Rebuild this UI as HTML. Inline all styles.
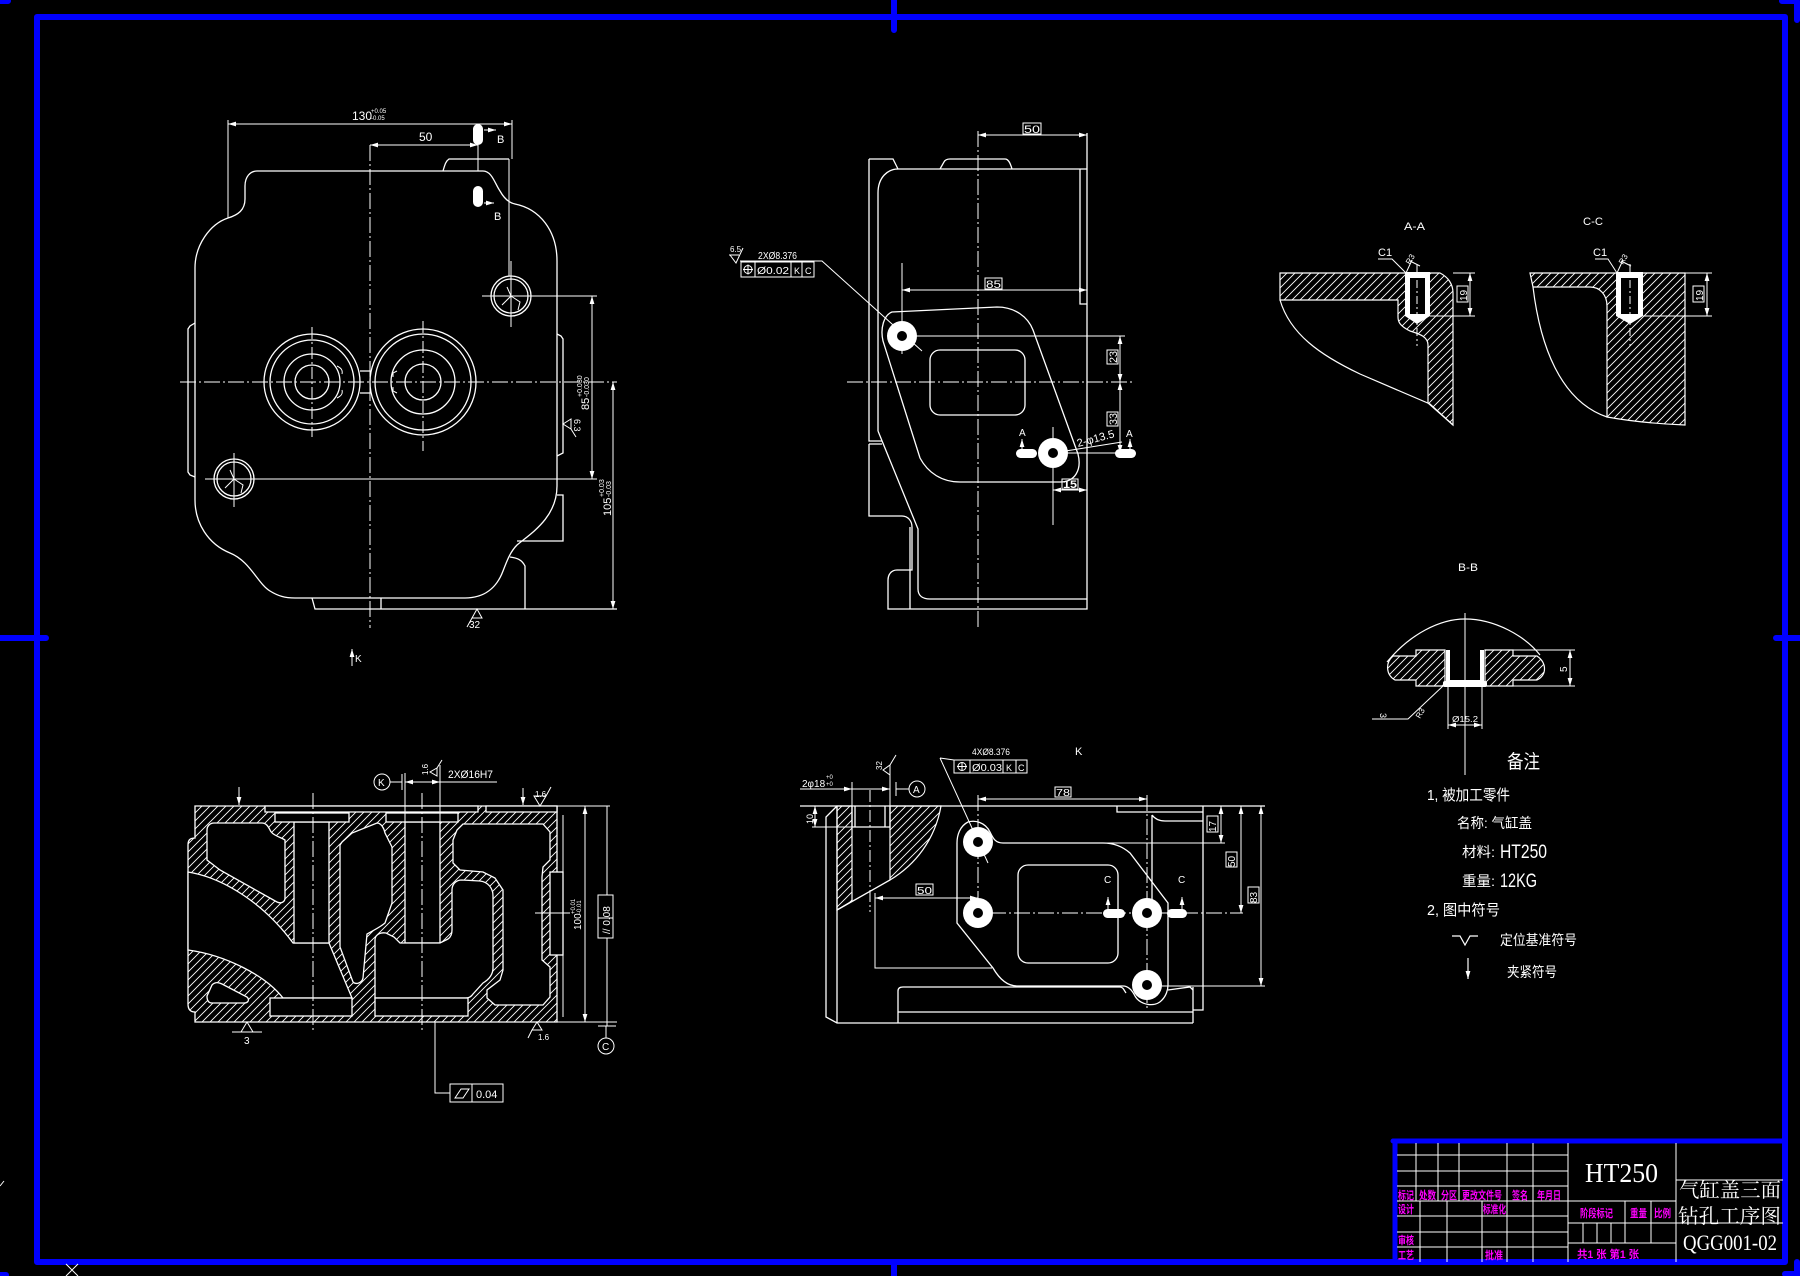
<!DOCTYPE html>
<html><head><meta charset="utf-8"><style>html,body{margin:0;padding:0;background:#000;}svg{display:block}</style></head>
<body>
<svg xmlns="http://www.w3.org/2000/svg" width="1800" height="1276" viewBox="0 0 1800 1276">
<defs>
<pattern id="h" patternUnits="userSpaceOnUse" width="8" height="8"><path d="M-1,9 L9,-1 M-1,1 L1,-1 M7,9 L9,7" stroke="#fff" stroke-width="0.9"/></pattern>
<marker id="a" viewBox="0 0 10 6" refX="10" refY="3" markerWidth="8" markerHeight="5" markerUnits="userSpaceOnUse" orient="auto-start-reverse"><path d="M0,0 L10,3 L0,6 z" fill="#fff"/></marker>
</defs>
<rect width="1800" height="1276" fill="#000"/>

<!-- blue frames -->
<g fill="none" stroke="#0000ff" stroke-width="6" stroke-linecap="round" stroke-linejoin="round">
<rect x="37" y="17" width="1748" height="1245"/>
<path d="M894,0 L894,30 M894,1262 L894,1276 M0,638 L46,638 M1776,638 L1800,638"/>
<path d="M1393,1141 L1785,1141 M1395,1141 L1395,1262" stroke-width="5"/>
<path d="M0,1 L8,1 M1782,1 L1797,1 L1797,20 M1797,1262 L1797,1276 M1785,1274 L1797,1274 M0,1275 L6,1275"/>
</g>
<g stroke="#fff" stroke-width="1"><path d="M66,1264 L78,1276 M78,1264 L66,1276 M0,1186 L4,1181"/></g>

<!-- ============ FRONT VIEW (top-left) ============ -->
<g fill="none" stroke="#fff" stroke-width="1.3">
<path d="M257,171 L483,171 C492,171 495,184 500,191 C505,200 510,203 515,204 C540,209 557,231 557,261 L557,486 C557,518 530,534 517,545 C510,552 507,561 503,571 C497,587 485,598 465,598 L295,598 C285,598 278,596 270,591 C258,584 250,561 230,553 C208,544 195,523 195,500 L195,268 C195,245 210,224 228,218 C238,215 245,210 245,199 L245,186 C245,177 250,171 257,171 Z"/>
<path d="M557,334 L561,336 L563,339 L563,453 L557,456"/>
<path d="M557,495 L563,495 L563,541 L517,541"/>
<path d="M510,557 C518,558 522,560 525,566 L525,609"/>
<path d="M312,598 L315,609 L617,609 M381,598 L381,609"/>
<path d="M195,323 L190,326 L188,329 L188,472 L190,475 L195,477"/>
<path d="M443,171 C445,164 446,161 449,159 L509,159"/>
<circle cx="312" cy="382" r="48"/><circle cx="312" cy="382" r="42"/><circle cx="312" cy="382" r="28"/><circle cx="312" cy="382" r="17"/>
<circle cx="423" cy="382" r="53"/><circle cx="423" cy="382" r="48"/><circle cx="423" cy="382" r="32"/><circle cx="423" cy="382" r="18"/>
<path d="M337,366 C341,368 343,370 342,374 M337,398 C341,396 343,394 342,390 M397,371 L393,373 L393,377 M397,393 L393,391 L393,387" stroke-width="1"/>
<path d="M360,371 L370,371 M360,393 L370,393" />
<circle cx="511" cy="296" r="20"/><circle cx="511" cy="296" r="17"/>
<circle cx="234" cy="479" r="20"/><circle cx="234" cy="479" r="17"/>
<path d="M511,296 L520,302 L518,310 M511,296 L502,305 M511,296 L507,287 M234,479 L243,485 L241,493 M234,479 L225,488 M234,479 L230,470" stroke-width="1"/>
</g>
<g fill="none" stroke="#fff" stroke-width="1">
<path d="M180,382 L617,382" stroke-dasharray="16 3 2 3"/>
<path d="M370,145 L370,628" stroke-dasharray="16 3 2 3"/>
<path d="M312,327 L312,437 M423,321 L423,451" stroke-dasharray="12 3 2 3"/>
<path d="M511,261 L511,327 M234,453 L234,507"/>
<path d="M228,124 L512,124" marker-start="url(#a)" marker-end="url(#a)"/>
<path d="M228,120 L228,218 M512,120 L512,159 M509,159 L509,276"/>
<path d="M370,145 L478,145" marker-start="url(#a)" marker-end="url(#a)"/>
<path d="M478,145 L478,171"/>
<path d="M482,296 L597,296 M205,479 L597,479"/>
<path d="M592,296 L592,479" marker-start="url(#a)" marker-end="url(#a)"/>
<path d="M613,382 L613,609" marker-start="url(#a)" marker-end="url(#a)"/>
<path d="M484,130 L496,130" marker-end="url(#a)"/>
<path d="M484,203 L494,203" marker-end="url(#a)"/>
<path d="M563,424 L571,419 L571,429 Z M571,429 L576,437"/>
<path d="M477,609 L472,618 L482,618 Z M472,618 L467,627"/>
<path d="M352,666 L352,649" marker-end="url(#a)"/>
</g>
<g fill="#fff">
<rect x="473" y="124" width="10" height="21" rx="5"/>
<rect x="473" y="186" width="10" height="21" rx="5"/>
</g>
<g fill="#fff" font-family="'Liberation Sans Narrow','Liberation Sans',sans-serif" font-size="12">
<text x="352" y="120">130</text>
<text x="371" y="113" font-size="6">+0.05</text><text x="371" y="120" font-size="6">-0.05</text>
<text x="419" y="141">50</text>
<text x="497" y="143" font-size="11">B</text>
<text x="494" y="220" font-size="11">B</text>
<g transform="translate(589,410) rotate(-90)"><text x="0" y="0" font-size="11">85</text><text x="13" y="-7" font-size="7">+0.030</text><text x="13" y="0" font-size="7">-0.030</text></g>
<g transform="translate(611,516) rotate(-90)"><text x="0" y="0" font-size="11">105</text><text x="19" y="-7" font-size="7">+0.03</text><text x="19" y="0" font-size="7">-0.03</text></g>
<text transform="translate(574,419) rotate(90)" font-size="9">6.3</text>
<text x="469" y="628" font-size="10">32</text>
<text x="355" y="662" font-size="10">K</text>
</g>

<!-- ============ SIDE VIEW (top-middle) ============ -->
<g fill="none" stroke="#fff" stroke-width="1.3">
<path d="M869,159 L893,159 L898,169 L1087,169 M940,169 L944,162 C945,160 947,159 950,159 L1005,159 C1008,159 1010,162 1012,169"/>
<path d="M869,159 L869,441 L882,441 M869,444 L882,444 M869,444 L869,516 L902,516 C908,516 912,521 912,527 L912,570 L897,570 C891,570 888,575 888,580 L888,609 L1087,609 L1087,133"/>
<path d="M910,527 L910,609"/>
<path d="M878,431 L878,193 C878,177 888,169 898,169"/>
<path d="M878,431 L918,529 L918,589 C918,596 923,599 930,599 L1087,599"/>
<path d="M1080,169 L1080,304 L1087,304"/>
<path d="M892,312 L997,307 C1015,307 1028,317 1033,330 L1078,454 C1082,470 1075,482 1060,482 L960,482 C942,482 928,473 920,458 L883,341 C880,328 884,315 892,312 Z"/>
<rect x="930" y="350" width="95" height="65" rx="10"/>
</g>
<g fill="none" stroke="#fff" stroke-width="1">
<path d="M847,382 L1133,382" stroke-dasharray="16 3 2 3"/>
<path d="M978,131 L978,627" stroke-dasharray="16 3 2 3"/>
<path d="M902,263 L902,354 M1053,427 L1053,525"/>
<path d="M922,351 L822,261 L740,261"/>
<path d="M902,336 L1125,336 M1053,453 L1125,453"/>
<path d="M902,290 L1087,290" marker-start="url(#a)" marker-end="url(#a)"/>
<path d="M978,135 L1087,135" marker-start="url(#a)" marker-end="url(#a)"/>
<path d="M1120,336 L1120,382" marker-start="url(#a)" marker-end="url(#a)"/>
<path d="M1120,382 L1120,453" marker-start="url(#a)" marker-end="url(#a)"/>
<path d="M1053,490 L1087,490" marker-start="url(#a)" marker-end="url(#a)"/>
<path d="M1053,479 L1053,493"/>
<rect x="985" y="278" width="17" height="11"/>
<rect x="1023" y="123" width="18" height="11"/>
<rect x="1107" y="350" width="11" height="14"/>
<rect x="1107" y="412" width="11" height="14"/>
<rect x="1062" y="479" width="16" height="10"/>
<rect x="741" y="262" width="73" height="15"/>
<path d="M755,262 L755,277 M791,262 L791,277 M802,262 L802,277"/>
<circle cx="748" cy="269.5" r="4"/><path d="M748,264.5 L748,274.5 M743,269.5 L753,269.5"/>
<path d="M730,255 L736,263 L743,248 M729,255 L739,255"/>
<path d="M1022,449 L1022,439" marker-end="url(#a)"/>
<path d="M1130,449 L1130,439" marker-end="url(#a)"/>
<path d="M1053,453 L1122,442"/>
</g>
<g fill="#fff">
<circle cx="902" cy="336" r="15"/><circle cx="1053" cy="453" r="15"/>
<rect x="1016" y="449" width="21" height="9" rx="4.5"/>
<rect x="1115" y="449" width="21" height="9" rx="4.5"/>
</g>
<g fill="#000"><circle cx="902" cy="336" r="5"/><circle cx="1053" cy="453" r="5"/></g>
<g fill="#fff" font-family="'Liberation Sans Narrow','Liberation Sans',sans-serif" font-size="11">
<text x="986" y="288" textLength="15" lengthAdjust="spacingAndGlyphs">85</text>
<text x="1024" y="133" textLength="16" lengthAdjust="spacingAndGlyphs">50</text>
<text transform="translate(1117,363) rotate(-90)" textLength="12" lengthAdjust="spacingAndGlyphs">23</text>
<text transform="translate(1117,425) rotate(-90)" textLength="12" lengthAdjust="spacingAndGlyphs">33</text>
<text x="1063" y="488" font-weight="bold" textLength="14" lengthAdjust="spacingAndGlyphs">15</text>
<text x="758" y="259" font-size="10" textLength="39" lengthAdjust="spacingAndGlyphs">2XØ8.376</text>
<text x="757" y="274" font-size="10" textLength="32" lengthAdjust="spacingAndGlyphs">Ø0.02</text>
<text x="794" y="274" font-size="9">K</text>
<text x="805" y="274" font-size="9">C</text>
<text x="730" y="252" font-size="8">6.5</text>
<text x="1019" y="436" font-size="10">A</text>
<text x="1126" y="437" font-size="10">A</text>
<text transform="translate(1078,447) rotate(-15)" font-size="11">2-φ13.5</text>
</g>

<!-- ============ SECTION A-A ============ -->
<path d="M1280,273 L1440,273 C1448,277 1453,284 1453,293 L1453,425 L1428,403 L1428,345 C1428,337 1420,334 1410,331 C1400,326 1398,322 1398,317 L1398,300 L1280,300 Z" fill="url(#h)" stroke="#fff" stroke-width="1.2"/>
<path d="M1280,300 C1290,334 1320,355 1360,374 L1430,404 L1453,425" fill="none" stroke="#fff" stroke-width="1.2"/>
<path d="M1405,272 L1405,316 L1417,324 L1430,316 L1430,272 Z" fill="#fff"/>
<rect x="1410" y="278" width="15" height="36" fill="#000"/>
<!-- C-C -->
<path d="M1530,273 L1685,273 L1685,425 C1660,424 1635,422 1607,417 L1607,306 C1607,295 1600,287 1590,287 L1533,287 Z" fill="url(#h)" stroke="#fff" stroke-width="1.2"/>
<path d="M1533,287 C1540,345 1560,401 1607,417" fill="none" stroke="#fff" stroke-width="1.2"/>
<path d="M1616,272 L1616,316 L1630,324 L1643,316 L1643,272 Z" fill="#fff"/>
<rect x="1621" y="278" width="17" height="36" fill="#000"/>
<!-- B-B -->
<path d="M1387,662 C1410,634 1440,619 1465,619 C1495,619 1525,636 1540,655" fill="none" stroke="#fff" stroke-width="1.2"/>
<path d="M1416,650 L1445,650 L1445,686 L1416,686 L1416,680 L1395,680 C1386,675 1385,663 1393,656 L1416,656 Z" fill="url(#h)" stroke="#fff" stroke-width="1.2"/>
<path d="M1485,650 L1513,650 L1513,656 L1537,656 C1547,663 1547,675 1537,680 L1513,680 L1513,686 L1485,686 Z" fill="url(#h)" stroke="#fff" stroke-width="1.2"/>
<path d="M1448,650 L1448,682 L1482,682 L1482,650" fill="none" stroke="#fff" stroke-width="4"/>
<rect x="1443" y="681" width="44" height="6" rx="2" fill="#fff"/>
<g fill="none" stroke="#fff" stroke-width="1">
<path d="M1417,264 L1417,346 M1630,264 L1630,346" stroke-dasharray="8 3 2 3"/>
<path d="M1453,273 L1475,273 M1430,316 L1475,316"/>
<path d="M1470,273 L1470,316" marker-start="url(#a)" marker-end="url(#a)"/>
<rect x="1457" y="286" width="11" height="16"/>
<path d="M1378,259 L1392,259 L1406,273 M1406,273 L1412,260 M1410,261 L1420,266"/>
<path d="M1685,273 L1712,273 M1643,316 L1712,316"/>
<path d="M1707,273 L1707,316" marker-start="url(#a)" marker-end="url(#a)"/>
<rect x="1693" y="286" width="11" height="16"/>
<path d="M1595,259 L1608,259 L1617,273 M1617,273 L1623,260 M1621,261 L1631,266"/>
<path d="M1465,613 L1465,775"/>
<path d="M1513,650 L1575,650 M1487,686 L1575,686"/>
<path d="M1570,650 L1570,686" marker-start="url(#a)" marker-end="url(#a)"/>
<path d="M1448,686 L1448,729 M1482,686 L1482,729"/>
<path d="M1448,725 L1482,725" marker-start="url(#a)" marker-end="url(#a)"/>
<path d="M1443,686 L1408,719 L1372,719"/>
</g>
<g fill="#fff" font-family="'Liberation Sans Narrow','Liberation Sans',sans-serif" font-size="11">
<text x="1404" y="230" textLength="21" lengthAdjust="spacingAndGlyphs">A-A</text>
<text x="1583" y="225" textLength="20" lengthAdjust="spacingAndGlyphs">C-C</text>
<text x="1458" y="571" textLength="20" lengthAdjust="spacingAndGlyphs">B-B</text>
<text x="1378" y="256">C1</text>
<text x="1593" y="256">C1</text>
<text transform="translate(1410,265) rotate(-60)" font-size="8">R3</text>
<text transform="translate(1623,265) rotate(-60)" font-size="8">R3</text>
<text transform="translate(1467,301) rotate(-90)" font-size="10">19</text>
<text transform="translate(1703,301) rotate(-90)" font-size="10">19</text>
<text transform="translate(1567,672) rotate(-90)" font-size="10">5</text>
<text x="1452" y="722" font-size="8" textLength="26" lengthAdjust="spacingAndGlyphs">Ø15.2</text>
<text transform="translate(1380,713) rotate(90)" font-size="9">3</text>
<text transform="translate(1420,719) rotate(-60)" font-size="8">R3</text>
</g>

<!-- ============ NOTES ============ -->
<g fill="#fff" font-family="'Liberation Sans','Noto Sans CJK SC',sans-serif">
<text x="1507" y="768" font-size="19" textLength="33" lengthAdjust="spacingAndGlyphs">备注</text>
<text x="1427" y="800" font-size="15" textLength="83" lengthAdjust="spacingAndGlyphs">1, 被加工零件</text>
<text x="1457" y="828" font-size="14" textLength="75" lengthAdjust="spacingAndGlyphs">名称: 气缸盖</text>
<text x="1462" y="857" font-size="14" textLength="33" lengthAdjust="spacingAndGlyphs">材料:</text>
<text x="1500" y="858" font-size="19" textLength="47" lengthAdjust="spacingAndGlyphs">HT250</text>
<text x="1462" y="886" font-size="14" textLength="33" lengthAdjust="spacingAndGlyphs">重量:</text>
<text x="1500" y="887" font-size="19" textLength="37" lengthAdjust="spacingAndGlyphs">12KG</text>
<text x="1427" y="915" font-size="15" textLength="73" lengthAdjust="spacingAndGlyphs">2, 图中符号</text>
<text x="1500" y="945" font-size="14" textLength="77" lengthAdjust="spacingAndGlyphs">定位基准符号</text>
<text x="1507" y="977" font-size="14" textLength="50" lengthAdjust="spacingAndGlyphs">夹紧符号</text>
</g>
<g fill="none" stroke="#fff" stroke-width="1.2">
<path d="M1452,936 L1460,936 L1465,945 L1470,936 L1478,936"/>
<path d="M1468,958 L1468,979" marker-end="url(#a)"/>
</g>

<!-- ============ BOTTOM-LEFT SECTION ============ -->
<path d="M195,806 L557,806 L557,1022 L195,1022 L195,1012 C190,1012 188,1009 188,1004 L188,845 C188,840 190,838 195,838 Z" fill="url(#h)" stroke="#fff" stroke-width="1.3"/>
<g fill="#000" stroke="#fff" stroke-width="1.3">
<path d="M265,806 L478,806 L478,812 L265,812 Z"/>
<path d="M486,806 L557,806 L557,812 L486,812 Z"/>
<path d="M214,823 L262,823 C266,823 268,826 270,830 C272,835 280,837 285,840 L285,898 C285,902 281,904 277,902 L220,870 L207,860 L207,830 C207,826 210,823 214,823 Z"/>
<path d="M188,872 C225,878 265,905 293,943 L329,943 L352,998 L283,998 C265,975 225,955 188,950 Z"/>
<path d="M212,985 C215,982 218,982 222,984 L247,997 C250,1000 248,1003 244,1003 L212,1003 C208,1003 207,1000 207,996 Z"/>
<rect x="294" y="822" width="35" height="121"/>
<rect x="275" y="813" width="74" height="9"/>
<rect x="270" y="998" width="82" height="18"/>
<path d="M342,842 L352,833 L377,823 C381,823 384,828 385,833 L392,847 L392,903 L385,923 C379,928 372,931 367,934 L363,978 C362,983 356,985 353,982 L340,947 L340,845 Z"/>
<rect x="405" y="822" width="35" height="121"/>
<rect x="386" y="813" width="72" height="9"/>
<path d="M375,940 C375,935 380,932 386,933 L394,937 L400,943 L440,943 L448,939 C451,937 452,934 452,930 L452,890 C452,884 456,880 462,880 L480,881 C488,882 493,888 493,896 L493,968 C493,975 488,980 483,983 L473,994 C471,997 469,998 466,998 L375,998 Z"/>
<rect x="375" y="998" width="93" height="18"/>
<path d="M463,824 L543,824 L550,832 L550,860 L543,867 L542,877 L542,960 L550,967 L550,997 L543,1005 L495,1005 L487,998 L487,990 L500,980 L503,970 L503,890 L495,878 L483,872 L460,870 L453,863 L453,840 L457,830 Z"/>
<rect x="550" y="872" width="13" height="83"/>
</g>
<g fill="none" stroke="#fff" stroke-width="1">
<path d="M557,806 L610,806 M557,1022 L617,1022 M563,815 L563,1017"/>
<path d="M313,793 L313,1030 M422,793 L422,1030" stroke-dasharray="16 3 2 3"/>
<path d="M585,806 L585,1022" marker-start="url(#a)" marker-end="url(#a)"/>
<path d="M607,806 L607,895 M607,938 L607,1026 M598,1026 L616,1026 M606,1026 L606,1038"/>
<rect x="598" y="895" width="15" height="43"/>
<path d="M598,918 L613,918"/>
<circle cx="606" cy="1046" r="8"/>
<circle cx="382" cy="782" r="8"/>
<path d="M390,782 L402,782 M402,774 L402,790"/>
<path d="M405,782 L440,782" marker-start="url(#a)" marker-end="url(#a)"/>
<path d="M440,782 L497,782 M405,773 L405,822 M440,765 L440,822"/>
<path d="M430,772 L437,776 L437,768 Z M437,768 L442,760"/>
<path d="M540,806 L534,796 L546,796 Z M546,796 L551,787"/>
<path d="M239,787 L239,805" marker-end="url(#a)"/>
<path d="M523,788 L523,805" marker-end="url(#a)"/>
<path d="M232,1032 L262,1032 M247,1022 L241,1032 M247,1022 L253,1032"/>
<path d="M537,1022 L532,1030 L542,1030 Z M532,1030 L528,1038"/>
<path d="M435,1022 L435,1093 L450,1093"/>
<rect x="450" y="1084" width="53" height="18"/>
<path d="M472,1084 L472,1102 M455,1098 L461,1089 L469,1089 L463,1098 Z"/>
<path d="M535,913 L570,913"/>
</g>
<g fill="#fff" font-family="'Liberation Sans Narrow','Liberation Sans',sans-serif" font-size="11">
<text x="448" y="778" textLength="45" lengthAdjust="spacingAndGlyphs">2XØ16H7</text>
<text x="378" y="786" font-size="10">K</text>
<text x="602" y="1050" font-size="10">C</text>
<text transform="translate(428,775) rotate(-90)" font-size="8">1.6</text>
<text x="535" y="797" font-size="8">1.6</text>
<text x="244" y="1044" font-size="10">3</text>
<text x="538" y="1040" font-size="8">1.6</text>
<text x="476" y="1098" font-size="11">0.04</text>
<g transform="translate(581,930) rotate(-90)"><text x="0" y="0" font-size="10">100</text><text x="16" y="-6" font-size="6">+0.01</text><text x="16" y="0" font-size="6">-0.01</text></g>
<text transform="translate(610,934) rotate(-90)" font-size="10">// 0.08</text>
</g>

<!-- ============ K VIEW (bottom-middle) ============ -->
<path d="M837,806 L852,806 L852,901 L837,910 Z" fill="url(#h)" stroke="#fff" stroke-width="1.2"/>
<path d="M890,806 L941,806 C935,840 915,865 890,880 Z" fill="url(#h)" stroke="#fff" stroke-width="1.2"/>
<g fill="none" stroke="#fff" stroke-width="1.3">
<path d="M800,806 L1265,806"/>
<path d="M837,806 L826,817 L826,1017 L837,1023 L1193,1023 M837,806 L837,1023"/>
<path d="M1203,806 L1203,1010 L1193,1010 M1193,987 L1193,1023"/>
<path d="M852,806 L852,827 L890,827 L890,806 M855,806 L855,827 M885,806 L885,827"/>
<path d="M837,910 L890,880"/>
<path d="M1003,843 C995,843 993,838 990,832 C985,822 975,820 968,822 C960,826 957,835 957,843 L957,923 L993,968 C1000,980 1008,986 1017,986 L1123,986 C1128,986 1132,990 1135,996 C1140,1005 1155,1008 1162,1000 C1166,996 1168,990 1168,985 L1168,903 L1130,853 C1122,846 1112,843 1103,843 Z"/>
<rect x="1018" y="865" width="100" height="98" rx="10"/>
<path d="M1117,806 L1117,812 L1203,812 M1152,815 C1155,819 1159,821 1165,821 L1203,821 M1152,815 L1152,912"/>
<path d="M898,1023 L898,991 C898,988 900,987 903,987 L1120,987 C1123,987 1124,990 1126,993 M898,1012 L1193,1012 M1168,990 L1190,987 L1193,990"/>
</g>
<g fill="none" stroke="#fff" stroke-width="1">
<path d="M870,790 L870,912" stroke-dasharray="12 3 2 3"/>
<path d="M875,893 L875,968 L992,968"/>
<path d="M875,898 L978,898" marker-start="url(#a)" marker-end="url(#a)"/>
<rect x="916" y="884" width="17" height="11"/>
<path d="M990,913 L1243,913" stroke-dasharray="16 3 2 3"/>
<path d="M978,795 L978,927 M1147,795 L1147,1010" stroke-dasharray="16 3 2 3"/>
<path d="M978,799 L1147,799" marker-start="url(#a)" marker-end="url(#a)"/>
<rect x="1055" y="787" width="16" height="10"/>
<path d="M1103,843 L1225,843 M1157,986 L1265,986"/>
<path d="M1221,806 L1221,843" marker-start="url(#a)" marker-end="url(#a)"/>
<path d="M1241,806 L1241,913" marker-start="url(#a)" marker-end="url(#a)"/>
<path d="M1261,806 L1261,986" marker-start="url(#a)" marker-end="url(#a)"/>
<rect x="1207" y="816" width="11" height="16"/>
<rect x="1226" y="852" width="11" height="15"/>
<rect x="1248" y="887" width="11" height="16"/>
<path d="M815,806 L815,827" marker-start="url(#a)" marker-end="url(#a)"/>
<path d="M812,827 L852,827"/>
<path d="M800,789 L852,789" marker-end="url(#a)"/>
<path d="M852,789 L890,789" marker-end="url(#a)"/>
<path d="M852,782 L852,806 M890,775 L890,806"/>
<path d="M883,770 L890,775 L890,765 Z M890,765 L896,755"/>
<circle cx="917" cy="789" r="8"/>
<path d="M896,789 L909,789 M896,782 L896,796"/>
<rect x="954" y="760" width="73" height="13"/>
<path d="M970,760 L970,773 M1003,760 L1003,773 M1016,760 L1016,773"/>
<circle cx="962" cy="766.5" r="4"/><path d="M962,762 L962,771 M957,766.5 L967,766.5"/>
<path d="M940,758 L954,760 M940,758 L988,863"/>
<path d="M1108,909 L1108,897" marker-end="url(#a)"/>
<path d="M1182,909 L1182,897" marker-end="url(#a)"/>
</g>
<g fill="#fff">
<circle cx="978" cy="842" r="15"/><circle cx="978" cy="913" r="15"/><circle cx="1147" cy="913" r="15"/><circle cx="1147" cy="985" r="15"/>
<rect x="1103" y="909" width="22" height="9" rx="4.5"/><rect x="1167" y="909" width="20" height="9" rx="4.5"/>
</g>
<g fill="#000"><circle cx="978" cy="842" r="5"/><circle cx="978" cy="913" r="5"/><circle cx="1147" cy="913" r="5"/><circle cx="1147" cy="985" r="5"/></g>
<g fill="#fff" font-family="'Liberation Sans Narrow','Liberation Sans',sans-serif" font-size="11">
<text x="1075" y="755" font-size="11">K</text>
<text x="972" y="755" font-size="9" textLength="38" lengthAdjust="spacingAndGlyphs">4XØ8.376</text>
<text x="972" y="771" font-size="10" textLength="30" lengthAdjust="spacingAndGlyphs">Ø0.03</text>
<text x="1006" y="771" font-size="9">K</text>
<text x="1018" y="771" font-size="9">C</text>
<text x="1056" y="796" font-size="10" textLength="14" lengthAdjust="spacingAndGlyphs">78</text>
<text x="917" y="894" font-size="10" textLength="15" lengthAdjust="spacingAndGlyphs">50</text>
<text transform="translate(1216,832) rotate(-90)" font-size="10">17</text>
<text transform="translate(1235,867) rotate(-90)" font-size="10">50</text>
<text transform="translate(1257,903) rotate(-90)" font-size="10">83</text>
<text transform="translate(813,824) rotate(-90)" font-size="9">10</text>
<text x="802" y="787" font-size="10">2φ18</text>
<text x="826" y="779" font-size="6">+0</text><text x="826" y="786" font-size="6">+0</text>
<text transform="translate(882,770) rotate(-90)" font-size="8">32</text>
<text x="913" y="793" font-size="10">A</text>
<text x="1104" y="883" font-size="10">C</text>
<text x="1178" y="883" font-size="10">C</text>
</g>

<!-- ============ TITLE BLOCK ============ -->
<g fill="none" stroke="#fff" stroke-width="1">
<path d="M1397,1155 L1568,1155 M1397,1171 L1568,1171 M1397,1186 L1568,1186 M1397,1201 L1568,1201"/>
<path d="M1416,1143 L1416,1201 M1438,1143 L1438,1201 M1459,1143 L1459,1201 M1507,1143 L1507,1201 M1533,1143 L1533,1201"/>
<path d="M1397,1216 L1568,1216 M1397,1232 L1568,1232 M1397,1247 L1568,1247"/>
<path d="M1420,1201 L1420,1262 M1447,1201 L1447,1262 M1482,1201 L1482,1262 M1507,1201 L1507,1262 M1533,1201 L1533,1262"/>
<path d="M1568,1143 L1568,1262 M1676,1143 L1676,1262"/>
<path d="M1568,1201 L1676,1201 M1568,1223 L1676,1223 M1568,1243 L1676,1243"/>
<path d="M1625,1201 L1625,1243 M1651,1201 L1651,1243 M1583,1223 L1583,1243 M1597,1223 L1597,1243 M1611,1223 L1611,1243"/>
<path d="M1676,1180 L1783,1180 M1676,1223 L1783,1223"/>
</g>
<g fill="#ff00ff" font-family="'Liberation Sans','Noto Sans CJK SC',sans-serif" font-size="11" font-weight="bold">
<text x="1398" y="1199" textLength="16" lengthAdjust="spacingAndGlyphs">标记</text>
<text x="1419" y="1199" textLength="17" lengthAdjust="spacingAndGlyphs">处数</text>
<text x="1441" y="1199" textLength="16" lengthAdjust="spacingAndGlyphs">分区</text>
<text x="1462" y="1199" textLength="40" lengthAdjust="spacingAndGlyphs">更改文件号</text>
<text x="1512" y="1199" textLength="16" lengthAdjust="spacingAndGlyphs">签名</text>
<text x="1537" y="1199" textLength="24" lengthAdjust="spacingAndGlyphs">年月日</text>
<text x="1398" y="1213" textLength="16" lengthAdjust="spacingAndGlyphs">设计</text>
<text x="1483" y="1213" textLength="23" lengthAdjust="spacingAndGlyphs">标准化</text>
<text x="1398" y="1244" textLength="16" lengthAdjust="spacingAndGlyphs">审核</text>
<text x="1398" y="1259" textLength="16" lengthAdjust="spacingAndGlyphs">工艺</text>
<text x="1485" y="1259" textLength="18" lengthAdjust="spacingAndGlyphs">批准</text>
<text x="1580" y="1217" textLength="33" lengthAdjust="spacingAndGlyphs">阶段标记</text>
<text x="1630" y="1217" textLength="17" lengthAdjust="spacingAndGlyphs">重量</text>
<text x="1654" y="1217" textLength="17" lengthAdjust="spacingAndGlyphs">比例</text>
<text x="1577" y="1258" textLength="62" lengthAdjust="spacingAndGlyphs">共1 张 第1 张</text>
</g>
<g fill="#fff">
<text x="1585" y="1182" font-family="'Liberation Serif',serif" font-size="27" textLength="73" lengthAdjust="spacingAndGlyphs">HT250</text>
<text x="1679" y="1197" font-family="'Liberation Serif','Noto Serif CJK SC',serif" font-size="20" textLength="102" lengthAdjust="spacingAndGlyphs">气缸盖三面</text>
<text x="1678" y="1223" font-family="'Liberation Serif','Noto Serif CJK SC',serif" font-size="20" textLength="103" lengthAdjust="spacingAndGlyphs">钻孔工序图</text>
<text x="1683" y="1250" font-family="'Liberation Serif',serif" font-size="22" textLength="94" lengthAdjust="spacingAndGlyphs">QGG001-02</text>
</g>
</svg>
</body></html>
